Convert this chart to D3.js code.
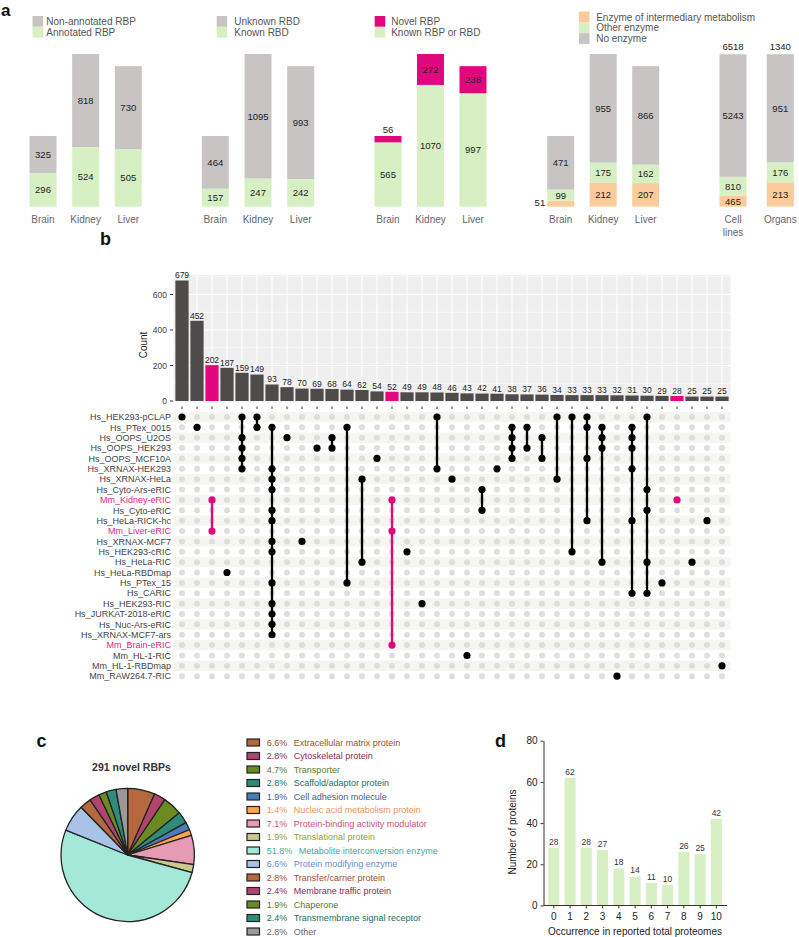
<!DOCTYPE html>
<html>
<head>
<meta charset="utf-8">
<script src="https://cdn.jsdelivr.net/npm/d3@7/dist/d3.min.js"></script>
<style>
  body { margin: 0; background: #fff; }
  svg { display: block; }
  text { font-family: "Liberation Sans", Arial, Helvetica, sans-serif; }
</style>
</head>
<body>
<svg id="fig" width="799" height="937"></svg>
<script>
// ---- panel a data ----
const tissues = ['Brain', 'Kidney', 'Liver'];
const annotatedRBP = [296, 524, 505];
const nonAnnotatedRBP = [325, 818, 730];
const knownRBD = [157, 247, 242];
const unknownRBD = [464, 1095, 993];
const knownRBPorRBD = [565, 1070, 997];
const novelRBP = [56, 272, 238];
const enzymeTissues = ['Brain', 'Kidney', 'Liver'];
const enzymeSources = ['Cell lines', 'Organs'];
const intermediaryEnzyme = [51, 212, 207, 465, 213];
const otherEnzyme = [99, 175, 162, 810, 176];
const noEnzyme = [471, 955, 866, 5243, 951];

// ---- panel b data ----
const upsetSets = [
    'Hs_HEK293-pCLAP', 'Hs_PTex_0015', 'Hs_OOPS_U2OS', 'Hs_OOPS_HEK293', 'Hs_OOPS_MCF10A',
    'Hs_XRNAX-HEK293', 'Hs_XRNAX-HeLa', 'Hs_Cyto-Ars-eRIC', 'Mm_Kidney-eRIC', 'Hs_Cyto-eRIC',
    'Hs_HeLa-RICK-hc', 'Mm_Liver-eRIC', 'Hs_XRNAX-MCF7', 'Hs_HEK293-cRIC', 'Hs_HeLa-RIC',
    'Hs_HeLa-RBDmap', 'Hs_PTex_15', 'Hs_CARIC', 'Hs_HEK293-RIC', 'Hs_JURKAT-2018-eRIC',
    'Hs_Nuc-Ars-eRIC', 'Hs_XRNAX-MCF7-ars', 'Mm_Brain-eRIC', 'Mm_HL-1-RIC', 'Mm_HL-1-RBDmap',
    'Mm_RAW264.7-RIC',
];
const highlightSets = ['Mm_Kidney-eRIC', 'Mm_Liver-eRIC', 'Mm_Brain-eRIC'];
const upsetCounts = [679, 452, 202, 187, 159, 149, 93, 78, 70, 69, 68, 64, 62, 54, 52, 49, 49, 48, 46,
    43, 42, 41, 38, 37, 36, 34, 33, 33, 33, 32, 31, 30, 29, 28, 25, 25, 25];
// row indices (into upsetSets) that belong to each intersection
const upsetMembers = [
    [0], [1], [8, 11], [15], [0, 2, 3, 4, 5], [0, 1],
    [1, 5, 6, 7, 9, 10, 12, 13, 16, 18, 19, 20, 21],
    [2], [12], [3], [2, 3], [1, 16], [6, 14], [4], [8, 11, 22], [13], [18], [0, 5], [6], [23],
    [7, 9], [5], [1, 2, 3, 4], [1, 3], [2, 4], [0, 6], [0, 13], [0, 1, 4, 10], [1, 2, 3, 14],
    [25], [1, 2, 3, 5, 10, 17], [0, 7, 9, 14, 17], [16], [8], [14], [10], [24],
];
const countTicks = [0, 200, 400, 600];

// ---- panel c data ----
const pieTitle = '291 novel RBPs';
const classNames = ['Extracellular matrix protein', 'Cytoskeletal protein', 'Transporter',
    'Scaffold/adaptor protein', 'Cell adhesion molecule', 'Nucleic acid metabolism protein',
    'Protein-binding activity modulator', 'Translational protein', 'Metabolite interconversion enzyme',
    'Protein modifying enzyme', 'Transfer/carrier protein', 'Membrane traffic protein', 'Chaperone',
    'Transmembrane signal receptor', 'Other'];
const classPercent = [6.6, 2.8, 4.7, 2.8, 1.9, 1.4, 7.1, 1.9, 51.8, 6.6, 2.8, 2.4, 1.9, 2.4, 2.8];
const classFill = ['#b5683f', '#b04670', '#6b8a22', '#2f8c78', '#4c7cba', '#ffa54a', '#e79ab3',
    '#cbc98c', '#a4e8d8', '#a9c3e8', '#b5683f', '#b04670', '#6b8a22', '#2f8c78', '#9a9a9a'];
const classText = ['#a0502c', '#8c2a55', '#5b7a1e', '#22705f', '#3f5f92', '#ec935a', '#c9507f',
    '#8ea43a', '#3cae9a', '#5f8fd0', '#a0502c', '#8c2a55', '#5b7a1e', '#22705f', '#666666'];

// ---- panel d data ----
const occurrence = ['0', '1', '2', '3', '4', '5', '6', '7', '8', '9', '10'];
const occurrenceCounts = [28, 62, 28, 27, 18, 14, 11, 10, 26, 25, 42];

const col = { gray: '#c9c4c4', green: '#d6f0c4', pink: '#e2077d', orange: '#fccb9c', bar: '#4f4b4b' };
const svg = d3.select('#fig');

function panelLetter(s, x, y, size = 18) {
    svg.append('text').attr('x', x).attr('y', y).text(s)
        .attr('font-size', size).attr('font-weight', 'bold').attr('fill', '#111');
}

// ================= panel a =================
panelLetter('a', 1, 16, 17);
const gA = svg.append('g');
const yA = d3.scaleLinear().domain([0, 1342]).range([206.6, 54]);
const yCell = d3.scaleLinear().domain([0, 6518]).range([206.6, yA(1340)]);
const barW = 27;

function stackedBars(cats, xRange, series, colors, yFor) {
    const x = d3.scalePoint().domain(cats).range(xRange);
    cats.forEach((c, i) => {
        const y = yFor(i);
        let acc = 0;
        series.forEach((s, k) => {
            const v = s[i];
            const y0 = y(acc), y1 = y(acc + v);
            gA.append('rect').attr('x', x(c) - barW / 2).attr('y', y1)
                .attr('width', barW).attr('height', y0 - y1).attr('fill', colors[k]);
            const lab = gA.append('text').text(v).attr('font-size', 9.5).attr('fill', '#222');
            if (y0 - y1 >= 9) {
                lab.attr('x', x(c)).attr('y', (y0 + y1) / 2 + 3.4).attr('text-anchor', 'middle');
            } else if (k === series.length - 1) {
                lab.attr('x', x(c)).attr('y', y1 - 3).attr('text-anchor', 'middle');
            } else {
                lab.attr('x', x(c) - barW / 2 - 2).attr('y', y0 - 0.5).attr('text-anchor', 'end');
            }
            acc += v;
        });
        const lines = c.split(' ');
        lines.forEach((w, j) => {
            gA.append('text').attr('x', x(c)).attr('y', 222.5 + j * 13.5).text(w)
                .attr('text-anchor', 'middle').attr('font-size', 10).attr('fill', '#666');
        });
    });
    return x;
}

function legend(x, y, items, colors, gap, h) {
    items.forEach((t, i) => {
        gA.append('rect').attr('x', x).attr('y', y + i * h).attr('width', 10.5).attr('height', h)
            .attr('fill', colors[i]);
        gA.append('text').attr('x', x + gap).attr('y', y + i * h + h / 2 + 3.6).text(t)
            .attr('font-size', 10).attr('fill', '#555');
    });
}

stackedBars(tissues, [43, 128.3], [annotatedRBP, nonAnnotatedRBP], [col.green, col.gray], () => yA);
legend(32.5, 16, ['Non-annotated RBP', 'Annotated RBP'], [col.gray, col.green], 13.8, 10.8);

stackedBars(tissues, [215.3, 300.7], [knownRBD, unknownRBD], [col.green, col.gray], () => yA);
legend(216.7, 16, ['Unknown RBD', 'Known RBD'], [col.gray, col.green], 17.6, 10.8);

stackedBars(tissues, [388, 473], [knownRBPorRBD, novelRBP], [col.green, col.pink], () => yA);
legend(374.7, 16, ['Novel RBP', 'Known RBP or RBD'], [col.pink, col.green], 16.5, 10.8);

const enzymeColors = [col.orange, col.green, col.gray];
stackedBars(enzymeTissues, [560.7, 645.7],
    [intermediaryEnzyme.slice(0, 3), otherEnzyme.slice(0, 3), noEnzyme.slice(0, 3)], enzymeColors, () => yA);
const xSrc = stackedBars(enzymeSources, [733, 780.3],
    [intermediaryEnzyme.slice(3), otherEnzyme.slice(3), noEnzyme.slice(3)], enzymeColors,
    (i) => (i === 0 ? yCell : yA));
enzymeSources.forEach((c, i) => {
    const total = intermediaryEnzyme[3 + i] + otherEnzyme[3 + i] + noEnzyme[3 + i];
    gA.append('text').attr('x', xSrc(c)).attr('y', 50.2).text(total)
        .attr('text-anchor', 'middle').attr('font-size', 9.5).attr('fill', '#222');
});
legend(579, 11.5, ['Enzyme of intermediary metabolism', 'Other enzyme', 'No enzyme'],
    enzymeColors, 17.2, 10.8);

// ================= panel b =================
panelLetter('b', 100, 245);
const gB = svg.append('g');
const bx = d3.scaleBand().domain(d3.range(upsetCounts.length)).range([174.5, 729.5])
    .paddingInner(0.12).paddingOuter(0.06);
const by = d3.scaleLinear().domain([0, 710]).range([401, 275]);
const cx = (i) => bx(i) + bx.bandwidth() / 2;
const isHighlight = (m) => m.every((r) => highlightSets.includes(upsetSets[r]));

gB.append('rect').attr('x', 173.5).attr('y', 275).attr('width', 557).attr('height', 127.5)
    .attr('fill', '#efefef');
d3.range(0, 701, 100).forEach((v) => {
    gB.append('line').attr('x1', 173.5).attr('x2', 730.5).attr('y1', by(v)).attr('y2', by(v))
        .attr('stroke', '#fff').attr('stroke-width', v % 200 === 0 ? 1.1 : 0.6);
});
upsetCounts.forEach((v, i) => {
    gB.append('line').attr('x1', cx(i)).attr('x2', cx(i)).attr('y1', 275).attr('y2', 402.5)
        .attr('stroke', '#fff').attr('stroke-width', 1.1);
});
gB.selectAll('rect.bar').data(upsetCounts).join('rect').attr('class', 'bar')
    .attr('x', (d, i) => bx(i)).attr('y', (d) => by(d))
    .attr('width', bx.bandwidth()).attr('height', (d) => by(0) - by(d))
    .attr('fill', (d, i) => (isHighlight(upsetMembers[i]) ? col.pink : col.bar));
gB.selectAll('text.val').data(upsetCounts).join('text').attr('class', 'val')
    .attr('x', (d, i) => cx(i)).attr('y', (d) => by(d) - 2.2).text((d) => d)
    .attr('text-anchor', 'middle').attr('font-size', 8.5).attr('fill', '#222');
upsetCounts.forEach((v, i) => {
    gB.append('line').attr('x1', cx(i)).attr('x2', cx(i)).attr('y1', 406.5).attr('y2', 409)
        .attr('stroke', '#333').attr('stroke-width', 1);
});
countTicks.forEach((t) => {
    gB.append('line').attr('x1', 170).attr('x2', 173).attr('y1', by(t)).attr('y2', by(t))
        .attr('stroke', '#333').attr('stroke-width', 1);
    gB.append('text').attr('x', 167).attr('y', by(t) + 3).text(t)
        .attr('text-anchor', 'end').attr('font-size', 8.5).attr('fill', '#444');
});
gB.append('text').attr('transform', 'translate(147,345) rotate(-90)').text('Count')
    .attr('text-anchor', 'middle').attr('font-size', 10).attr('fill', '#222');

// matrix
const ry = d3.scaleBand().domain(upsetSets).range([411.8, 681.4]);
const rc = (s) => ry(s) + ry.bandwidth() / 2;
upsetSets.forEach((s, k) => {
    if (k % 2 === 0) {
        gB.append('rect').attr('x', 173.5).attr('y', ry(s)).attr('width', 557)
            .attr('height', ry.bandwidth()).attr('fill', '#f6f5f0');
    }
    gB.append('text').attr('x', 171).attr('y', rc(s) + 3.2).text(s)
        .attr('text-anchor', 'end').attr('font-size', 9)
        .attr('fill', highlightSets.includes(s) ? '#e8208a' : '#444');
});
upsetCounts.forEach((v, i) => {
    upsetSets.forEach((s) => {
        gB.append('circle').attr('cx', cx(i)).attr('cy', rc(s)).attr('r', 3).attr('fill', '#dedede');
    });
});
upsetMembers.forEach((m, i) => {
    const c = isHighlight(m) ? col.pink : '#000';
    const ys = m.map((r) => rc(upsetSets[r]));
    if (m.length > 1) {
        gB.append('line').attr('x1', cx(i)).attr('x2', cx(i))
            .attr('y1', d3.min(ys)).attr('y2', d3.max(ys))
            .attr('stroke', c).attr('stroke-width', 2.3);
    }
    ys.forEach((yy) => {
        gB.append('circle').attr('cx', cx(i)).attr('cy', yy).attr('r', 3.6).attr('fill', c);
    });
});

// ================= panel c =================
panelLetter('c', 36.5, 747);
const gC = svg.append('g');
gC.append('text').attr('x', 131.5).attr('y', 770.5).text(pieTitle)
    .attr('text-anchor', 'middle').attr('font-size', 10.5).attr('font-weight', 'bold').attr('fill', '#333');
const pie = d3.pie().sort(null).value((d) => d);
const arc = d3.arc().innerRadius(0).outerRadius(66.7);
gC.append('g').attr('transform', 'translate(127.7,855)')
    .selectAll('path').data(pie(classPercent)).join('path')
    .attr('d', arc).attr('fill', (d, i) => classFill[i])
    .attr('stroke', '#222').attr('stroke-width', 1.3).attr('stroke-linejoin', 'round');
classNames.forEach((name, i) => {
    const yy = 742.5 + i * 13.5;
    gC.append('rect').attr('x', 247).attr('y', yy - 3.5).attr('width', 12.5).attr('height', 7)
        .attr('fill', classFill[i]).attr('stroke', '#222').attr('stroke-width', 1.2);
    const t = gC.append('text').attr('x', 266.7).attr('y', yy + 3.2)
        .attr('font-size', 9).attr('fill', classText[i]);
    t.append('tspan').text(classPercent[i].toFixed(1) + '%');
    t.append('tspan').attr('dx', 6.5).text(name);
});

// ================= panel d =================
panelLetter('d', 495, 747);
const gD = svg.append('g');
const xD = d3.scaleBand().domain(occurrence).range([545.7, 724.5]).paddingInner(0.32).paddingOuter(0.16);
const yD = d3.scaleLinear().domain([0, 80]).range([905.5, 740.7]);
gD.selectAll('rect').data(occurrenceCounts).join('rect')
    .attr('x', (d, i) => xD(occurrence[i])).attr('y', (d) => yD(d))
    .attr('width', xD.bandwidth()).attr('height', (d) => yD(0) - yD(d)).attr('fill', col.green);
gD.selectAll('text.val').data(occurrenceCounts).join('text').attr('class', 'val')
    .attr('x', (d, i) => xD(occurrence[i]) + xD.bandwidth() / 2).attr('y', (d) => yD(d) - 3.2)
    .text((d) => d).attr('text-anchor', 'middle').attr('font-size', 8.5).attr('fill', '#333');
const axL = gD.append('g').attr('transform', 'translate(543.5,0)')
    .call(d3.axisLeft(yD).tickValues([0, 20, 40, 60, 80]).tickSize(3).tickSizeOuter(0));
const axB = gD.append('g').attr('transform', 'translate(0,905.5)')
    .call(d3.axisBottom(xD).tickSize(3).tickPadding(4.5));
axB.select('.domain').remove();
gD.append('line').attr('x1', 543.5).attr('x2', 727).attr('y1', 905.5).attr('y2', 905.5)
    .attr('stroke', '#333').attr('stroke-width', 1);
[axL, axB].forEach((a) => {
    a.selectAll('text').attr('font-size', 10).attr('fill', '#222')
        .attr('font-family', '"Liberation Sans", Arial, sans-serif');
    a.selectAll('line,path').attr('stroke', '#333');
});
gD.append('text').attr('transform', 'translate(516,832) rotate(-90)').text('Number of proteins')
    .attr('text-anchor', 'middle').attr('font-size', 10).attr('fill', '#222');
gD.append('text').attr('x', 635).attr('y', 935).text('Occurrence in reported total proteomes')
    .attr('text-anchor', 'middle').attr('font-size', 10).attr('fill', '#222');
</script>
</body>
</html>
